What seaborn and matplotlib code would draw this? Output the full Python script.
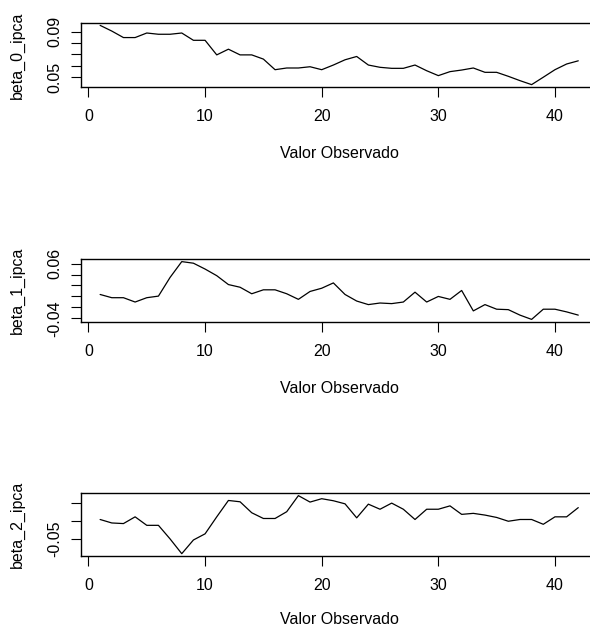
import numpy as np
import pandas as pd
import matplotlib
matplotlib.use("Agg")
import matplotlib.pyplot as plt
import matplotlib.transforms as mtransforms
import seaborn as sns

# valores (observacoes 1..42)
obs = list(range(1, 43))

beta_0_ipca = [0.0955, 0.0905, 0.0848, 0.0848, 0.0888, 0.0877, 0.0877, 0.0888, 0.0824, 0.0824,
               0.0696, 0.0746, 0.0696, 0.0696, 0.0659, 0.0566, 0.0581, 0.0581, 0.0592, 0.0566,
               0.0607, 0.0653, 0.0682, 0.0607, 0.0587, 0.0578, 0.0578, 0.0607, 0.0557, 0.0514,
               0.0549, 0.0563, 0.0581, 0.0543, 0.0543, 0.0508, 0.0470, 0.0435, 0.0500, 0.0566,
               0.0616, 0.0644]

beta_1_ipca = [0.0036, -0.0023, -0.0023, -0.0102, -0.0023, 0.0006, 0.0348, 0.0636, 0.0607, 0.0500,
               0.0379, 0.0217, 0.0168, 0.0049, 0.0121, 0.0121, 0.0049, -0.0053, 0.0091, 0.0150,
               0.0247, 0.0036, -0.0084, -0.0149, -0.0120, -0.0131, -0.0102, 0.0078, -0.0102, 0.0000,
               -0.0053, 0.0109, -0.0264, -0.0149, -0.0233, -0.0241, -0.0341, -0.0419, -0.0233, -0.0233,
               -0.0282, -0.0341]

beta_2_ipca = [0.0043, -0.0054, -0.0071, 0.0117, -0.0120, -0.0120, -0.0500, -0.0911, -0.0529, -0.0357,
               0.0117, 0.0574, 0.0537, 0.0231, 0.0071, 0.0071, 0.0260, 0.0709, 0.0529, 0.0623,
               0.0566, 0.0480, 0.0089, 0.0471, 0.0329, 0.0500, 0.0329, 0.0043, 0.0329, 0.0329,
               0.0423, 0.0186, 0.0214, 0.0166, 0.0100, -0.0006, 0.0043, 0.0043, -0.0091, 0.0117,
               0.0117, 0.0374]

x_ticks = [0, 10, 20, 30, 40]
y_ticks_0 = [0.05, 0.06, 0.07, 0.08, 0.09]
y_labels_0 = ["0.05", "", "", "", "0.09"]
y_ticks_1 = [-0.04, -0.02, 0.00, 0.02, 0.04, 0.06]
y_labels_1 = ["-0.04", "", "", "", "", "0.06"]
y_ticks_2 = [-0.05, 0.00, 0.05]
y_labels_2 = ["-0.05", "", ""]

sns.set_style("ticks")
plt.rcParams["font.family"] = ["Liberation Sans", "DejaVu Sans"]
plt.rcParams["font.size"] = 11.5

W, H = 590, 628
fig = plt.figure(figsize=(W / 100, H / 100), dpi=100)

# caixas dos paineis em pixels (topo, base) e distancia do titulo do eixo x
boxes = [(23, 87), (259.3, 321.7), (493.3, 556)]
xlab_off = [59, 59, 56]
left_px, width_px = 81, 516.4

panels = [
    ("beta_0_ipca", beta_0_ipca, y_ticks_0, y_labels_0),
    ("beta_1_ipca", beta_1_ipca, y_ticks_1, y_labels_1),
    ("beta_2_ipca", beta_2_ipca, y_ticks_2, y_labels_2),
]

for (top, bot), off, (name, vals, yt, yl) in zip(boxes, xlab_off, panels):
    ax = fig.add_axes([left_px / W, 1 - bot / H, width_px / W, (bot - top) / H])
    df = pd.DataFrame({"obs": obs, name: vals})
    sns.lineplot(data=df, x="obs", y=name, ax=ax, color="black", linewidth=0.9)

    # limites no estilo do R (4% de folga)
    xr = max(obs) - min(obs)
    ax.set_xlim(min(obs) - 0.04 * xr, max(obs) + 0.04 * xr)
    lo, hi = min(vals), max(vals)
    ax.set_ylim(lo - 0.04 * (hi - lo), hi + 0.04 * (hi - lo))

    ax.set_xticks(x_ticks)
    ax.set_xticklabels([str(t) for t in x_ticks])
    ax.set_yticks(yt)
    ax.set_yticklabels(yl, rotation=90, va="center")
    ax.tick_params(axis="x", length=7.5, width=0.8, pad=8.5, colors="black")
    ax.tick_params(axis="y", length=7.5, width=0.8, pad=6, colors="black")

    for sp in ax.spines.values():
        sp.set_visible(True)
        sp.set_linewidth(1.0)
        sp.set_color("black")

    ax.set_xlabel("Valor Observado", color="black")
    ax.xaxis.set_label_coords(0.5, 0, transform=mtransforms.offset_copy(ax.transAxes, fig, x=0, y=-off, units="dots"))
    ax.xaxis.label.set_va("top")

    ax.set_ylabel(name, color="black")
    ax.yaxis.set_label_coords(0, 0.5, transform=mtransforms.offset_copy(ax.transAxes, fig, x=-63.5, y=0, units="dots"))
    ax.yaxis.label.set_va("center")

fig.savefig("out.png", dpi=100, facecolor="white")
